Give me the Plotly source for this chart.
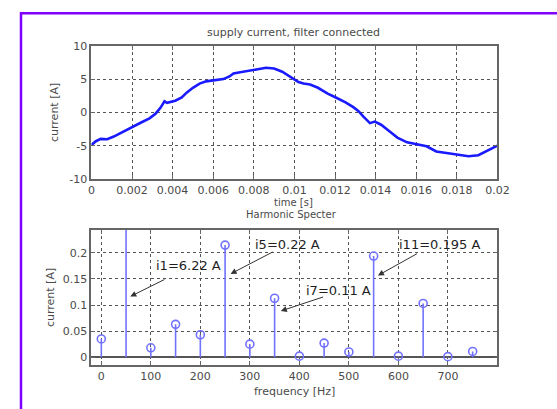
import plotly.graph_objects as go

# ---- data ----
time_s = [0, 0.00022, 0.00046, 0.00078, 0.0011, 0.0015, 0.002, 0.00245, 0.00286, 0.00317,
          0.0034, 0.0036, 0.00373, 0.0039, 0.00413, 0.00445, 0.00469, 0.005, 0.00533, 0.00565,
          0.006, 0.0065, 0.0068, 0.007, 0.00726, 0.00774, 0.00813, 0.0086, 0.009, 0.0094,
          0.0098, 0.0102, 0.01045, 0.01077, 0.01116, 0.01164, 0.01204, 0.01252, 0.0129, 0.01316,
          0.0134, 0.01372, 0.01396, 0.01427, 0.01468, 0.01507, 0.01555, 0.01603, 0.01651, 0.01699,
          0.01746, 0.01794, 0.01858, 0.01906, 0.01954, 0.02]
current_a = [-4.86, -4.3, -3.95, -4.0, -3.6, -2.94, -2.16, -1.5, -0.87, -0.14,
             0.7, 1.67, 1.45, 1.55, 1.77, 2.25, 2.97, 3.7, 4.33, 4.66,
             4.8, 5.0, 5.4, 5.85, 6.0, 6.2, 6.44, 6.7, 6.58, 6.1,
             5.38, 4.56, 4.33, 4.18, 3.7, 2.83, 2.25, 1.53, 0.81, 0.2,
             -0.63, -1.59, -1.36, -1.83, -2.8, -3.75, -4.47, -4.72, -5.05, -5.83,
             -6.02, -6.3, -6.55, -6.4, -5.69, -4.96]

freq_hz = [0, 50, 100, 150, 200, 250, 300, 350, 400, 450, 500, 550, 600, 650, 700, 750]
harm_a = [0.035, 6.22, 0.018, 0.063, 0.043, 0.215, 0.025, 0.113, 0.002, 0.027,
          0.010, 0.194, 0.002, 0.103, 0.001, 0.011]

t_ticks = [0, 0.002, 0.004, 0.006, 0.008, 0.01, 0.012, 0.014, 0.016, 0.018, 0.02]
t_labels = ["0", "0.002", "0.004", "0.006", "0.008", "0.01", "0.012", "0.014", "0.016", "0.018", "0.02"]
i_ticks = [-10, -5, 0, 5, 10]
i_labels = ["-10", "-5", "0", "5", "10"]
f_ticks = [0, 100, 200, 300, 400, 500, 600, 700]
f_labels = ["0", "100", "200", "300", "400", "500", "600", "700"]
h_ticks = [0, 0.05, 0.1, 0.15, 0.2]
h_labels = ["0", "0.05", "0.1", "0.15", "0.2"]

notes = ["i1=6.22 A", "i5=0.22 A", "i7=0.11 A", "i11=0.195 A"]

# ---- figure ----
W, H = 557, 409
TXT = "#4a4a4a"
GRID = "#555555"
FONT = "DejaVu Sans"
STEM = "#7272ff"

fig = go.Figure()

fig.add_trace(go.Scatter(x=time_s, y=current_a, mode="lines",
                         line=dict(color="#1a1aff", width=2.6),
                         xaxis="x", yaxis="y", showlegend=False))

stem_x, stem_y = [], []
for f, a in zip(freq_hz, harm_a):
    stem_x += [f, f, None]
    stem_y += [0, a, None]
fig.add_trace(go.Scatter(x=stem_x, y=stem_y, mode="lines",
                         line=dict(color=STEM, width=1.6),
                         xaxis="x2", yaxis="y2", showlegend=False))
fig.add_trace(go.Scatter(x=freq_hz, y=harm_a, mode="markers",
                         marker=dict(symbol="circle-open", size=8, color=STEM,
                                     line=dict(width=1.6, color=STEM)),
                         xaxis="x2", yaxis="y2", showlegend=False))

def px2x(px):
    return px / W

def px2y(py):
    return 1 - py / H

axis_common = dict(showline=True, linecolor="#666666", linewidth=1.8, mirror="allticks",
                   ticks="inside", ticklen=4, tickcolor="#666666",
                   showgrid=True, gridcolor=GRID, griddash="dot", gridwidth=1,
                   tickfont=dict(family=FONT, size=11, color=TXT), zeroline=False)

fig.update_layout(
    width=W, height=H, margin=dict(l=0, r=0, t=0, b=0),
    paper_bgcolor="white", plot_bgcolor="white",
    xaxis=dict(domain=[px2x(90), px2x(508)], range=[0, 0.02], anchor="y",
               tickvals=t_ticks, ticktext=t_labels, **axis_common),
    yaxis=dict(domain=[px2y(179), px2y(41)], range=[-10, 10], anchor="x",
               tickvals=i_ticks, ticktext=i_labels, **axis_common),
    xaxis2=dict(domain=[px2x(90), px2x(508)], range=[-20, 800], anchor="y2",
                tickvals=f_ticks, ticktext=f_labels, **axis_common),
    yaxis2=dict(domain=[px2y(371), px2y(231)], range=[-0.0154, 0.2446], anchor="x2",
                tickvals=h_ticks, ticktext=h_labels, **axis_common),
)
fig.update_yaxes(selector=dict(anchor="x2"), zeroline=True, zerolinecolor="#555555",
                 zerolinewidth=1.8)

small = dict(family=FONT, size=11, color=TXT)
tiny = dict(family=FONT, size=10, color=TXT)
big = dict(family=FONT, size=13, color="#1e1e1e")

anns = [
    dict(text="supply current, filter connected", x=px2x(298), y=px2y(27), font=small),
    dict(text="time [s]", x=px2x(298), y=px2y(202.5), font=tiny),
    dict(text="Harmonic Specter", x=px2x(296), y=px2y(215.5), font=tiny),
    dict(text="frequency [Hz]", x=px2x(299), y=px2y(398), font=small),
    dict(text="current [A]", x=px2x(52), y=px2y(110), textangle=-90, font=small),
    dict(text="current [A]", x=px2x(48), y=px2y(301), textangle=-90, font=small),
]
for a in anns:
    fig.add_annotation(xref="paper", yref="paper", showarrow=False,
                       xanchor="center", yanchor="middle", **a)

# arrows (head, tail) and label centres in data coords of the spectrum axes
arrows = [((58.5, 0.1164), (130.5, 0.1504), (177, 0.176)),
          ((261, 0.1597), (349, 0.2032), (377, 0.2154)),
          ((362.5, 0.0886), (451, 0.1164), (479, 0.127)),
          ((558.7, 0.1567), (640.5, 0.2), (684, 0.2154))]
for txt, (head, tail, lab) in zip(notes, arrows):
    fig.add_annotation(xref="x2", yref="y2", axref="x2", ayref="y2",
                       x=head[0], y=head[1], ax=tail[0], ay=tail[1], text="",
                       showarrow=True, arrowhead=2, arrowsize=1.2, arrowwidth=1,
                       arrowcolor="#333333")
    fig.add_annotation(xref="x2", yref="y2", x=lab[0], y=lab[1], text=txt,
                       showarrow=False, font=big, xanchor="center", yanchor="middle")

# purple outer frame
fig.add_shape(type="rect", xref="paper", yref="paper",
              x0=px2x(17.5), x1=1.2, y0=-0.2, y1=px2y(7.5),
              line=dict(color="#7f00ff", width=2.5), fillcolor="rgba(0,0,0,0)")

fig.write_html("out.html")
